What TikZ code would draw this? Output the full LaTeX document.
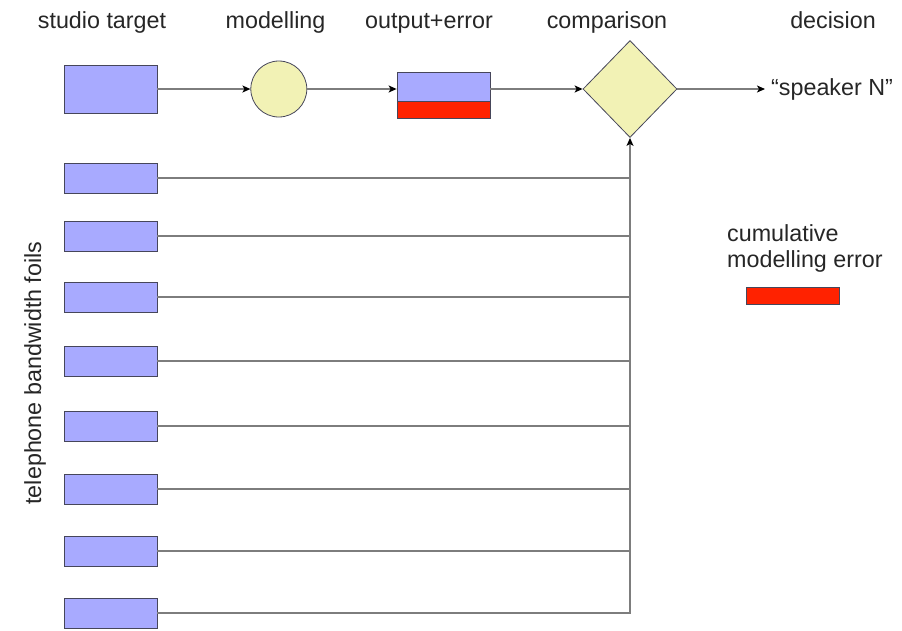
\documentclass[tikz,border=0pt]{standalone}
\usepackage{fontspec}
\setmainfont{Liberation Sans}
\usepackage{xcolor}
\usepackage{tikz}
\usetikzlibrary{arrows.meta,positioning,shapes.geometric}
\definecolor{foil}{RGB}{168,170,255}
\definecolor{pale}{RGB}{242,242,181}
\definecolor{errred}{RGB}{255,34,0}
\definecolor{edge}{RGB}{70,70,90}
\definecolor{wire}{RGB}{125,125,125}

\begin{document}
\begin{tikzpicture}[
    x=1pt, y=-1pt,
    sig/.style={draw=edge, fill=foil, minimum width=93pt, minimum height=30pt, inner sep=0pt, line width=0.8pt},
    errbar/.style={draw=edge, fill=errred, minimum width=93pt, minimum height=17pt, inner sep=0pt, line width=0.8pt},
    lbl/.style={font=\fontsize{23.3}{26}\selectfont, text=black!85, inner sep=0pt},
    wire/.style={draw=wire, line width=1.2pt},
    arr/.style={wire, -{Stealth[length=8pt, width=7pt, inset=2pt, color=black]}}
]
\useasboundingbox (0,0) rectangle (902,630);

% top row
\node[sig, minimum height=48pt] (tgt) at (110.5,89) {};
\node[circle, draw=edge, fill=pale, minimum size=56pt, inner sep=0pt, line width=0.8pt, right=93pt of tgt] (mdl) {};
\node[sig, minimum height=29pt] (out) at (443.5,86.5) {};
\node[errbar, below=0pt of out] (oerr) {};
\node[diamond, draw=edge, fill=pale, minimum width=94pt, minimum height=97pt, inner sep=0pt, line width=0.8pt] (cmp) at (630,89) {};
\node[lbl, anchor=west, inner sep=6pt] (spk) at (765,89) {“speaker N”};

% headings
\node[lbl, anchor=base] (h1) at (102,28) {studio target};
\node[lbl, anchor=base] (h2) at (275.5,28) {modelling};
\node[lbl, anchor=base] (h3) at (429,28) {output+error};
\node[lbl, anchor=base] (h4) at (607,28) {comparison};
\node[lbl, anchor=base] (h5) at (833,28) {decision};

% foils
\node[sig] (f1) at (110.5,178) {};
\node[sig] (f2) at (110.5,236) {};
\node[sig] (f3) at (110.5,297) {};
\node[sig] (f4) at (110.5,361) {};
\node[sig] (f5) at (110.5,426) {};
\node[sig] (f6) at (110.5,489) {};
\node[sig] (f7) at (110.5,551) {};
\node[sig] (f8) at (110.5,613) {};
\node[lbl, rotate=90] (axis) at (35,373) {telephone bandwidth foils};

% legend
\node[lbl, align=left, anchor=north west] (cum) at (727,224) {cumulative\\modelling error};
\node[errbar] (cumbar) at (792.5,295.5) {};

% connectors
\draw[arr] (tgt) -- (mdl);
\draw[arr] (mdl) -- (mdl.east -| out.west);
\draw[arr] (cmp -| out.east) -- (cmp);
\draw[arr] (cmp) -- (spk);
\draw[wire] (f1) -- (f1 -| cmp);
\draw[wire] (f2) -- (f2 -| cmp);
\draw[wire] (f3) -- (f3 -| cmp);
\draw[wire] (f4) -- (f4 -| cmp);
\draw[wire] (f5) -- (f5 -| cmp);
\draw[wire] (f6) -- (f6 -| cmp);
\draw[wire] (f7) -- (f7 -| cmp);
\draw[arr] (f8) -| (cmp.south);
\end{tikzpicture}
\end{document}
